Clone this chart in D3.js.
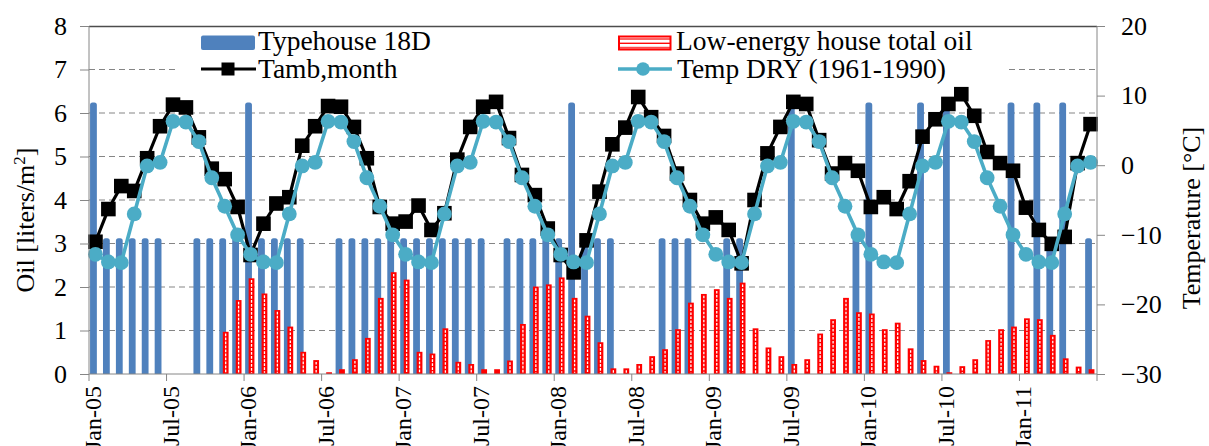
<!DOCTYPE html>
<html>
<head>
<meta charset="utf-8">
<script src="https://cdn.jsdelivr.net/npm/d3@7"></script>
<style>
  html, body { margin: 0; padding: 0; background: #fff; }
  svg { display: block; }
  text { font-family: "Liberation Serif", "Times New Roman", serif; fill: #000; }
</style>
</head>
<body>
<svg id="chart" width="1209" height="446"></svg>
<script>
// ---------- DATA ----------
const months = d3.timeMonth.range(new Date(2005, 0, 1), new Date(2011, 6, 1)).map(d3.timeFormat("%b-%y"));
const xTickLabels = ["Jan-05","Jul-05","Jan-06","Jul-06","Jan-07","Jul-07","Jan-08","Jul-08","Jan-09","Jul-09","Jan-10","Jul-10","Jan-11","Jul-11"];
const leftTicks = [0,1,2,3,4,5,6,7,8];
const rightTicks = [-30,-20,-10,0,10,20];

// Typehouse 18D oil [liters/m2]
const typehouse = [
  6.24,3.12,3.12,3.12,3.12,3.12,0,0,3.12,3.12,3.12,3.12,
  6.24,3.12,3.12,3.12,3.12,0,0,3.12,3.12,3.12,3.12,3.12,
  3.12,3.12,3.12,3.12,3.12,3.12,3.12,0,3.12,3.12,3.12,3.12,
  3.12,6.24,3.12,3.12,3.12,0,0,0,3.12,3.12,3.12,0,
  0,3.12,3.12,0,0,0,6.24,0,0,0,0,3.12,
  6.24,0,0,0,6.24,0,6.24,0,0,0,0,6.24,
  0,6.24,3.12,6.24,0,3.12
];
// Low-energy house total oil [liters/m2]
const lowEnergy = [
  null,null,null,null,null,null,null,null,null,null,0.97,1.70,
  2.20,1.85,1.47,1.09,0.51,0.32,0.04,0.11,0.34,0.83,1.75,2.34,
  2.17,0.51,0.47,1.05,0.28,0.23,0.11,0.11,0.31,1.15,2.01,2.06,
  2.22,1.75,1.34,0.73,0.13,0.13,0.23,0.41,0.57,1.03,1.64,1.84,
  1.95,1.75,2.10,1.05,0.61,0.41,0.23,0.34,0.93,1.26,1.75,1.42,
  1.39,1.03,1.18,0.59,0.32,0.19,0.04,0.18,0.34,0.78,1.03,1.09,
  1.28,1.26,0.90,0.36,0.17,0.11
];
// Tamb,month [°C]
const tamb = [
  -11.0,-6.3,-3.0,-3.7,1.0,5.6,8.7,8.3,4.0,-0.5,-2.0,-6.0,
  -12.9,-8.4,-5.5,-4.6,2.8,5.6,8.5,8.4,5.5,1.0,-6.0,-8.4,
  -8.1,-5.8,-9.3,-6.9,0.8,5.5,8.4,9.1,3.9,-1.4,-4.3,-9.1,
  -12.9,-15.4,-10.8,-3.8,3.0,5.4,9.8,6.9,4.2,-1.2,-5.0,-8.4,
  -7.5,-9.3,-14.1,-5.0,1.7,5.5,9.1,8.8,3.6,-1.2,0.3,-0.8,
  -6.0,-4.6,-6.3,-2.3,4.1,6.6,8.8,10.2,7.1,1.9,0.3,-0.8,
  -6.1,-9.3,-11.3,-10.3,0.3,5.9
];
// Temp DRY (1961-1990) [°C]
const tdry = [
  -12.8,-13.9,-14.0,-7.0,-0.1,0.4,6.3,6.2,3.4,-1.8,-5.9,-10.0,
  -12.8,-13.9,-14.0,-7.0,-0.1,0.4,6.3,6.2,3.4,-1.8,-5.9,-10.0,
  -12.8,-13.9,-14.0,-7.0,-0.1,0.4,6.3,6.2,3.4,-1.8,-5.9,-10.0,
  -12.8,-13.9,-14.0,-7.0,-0.1,0.4,6.3,6.2,3.4,-1.8,-5.9,-10.0,
  -12.8,-13.9,-14.0,-7.0,-0.1,0.4,6.3,6.2,3.4,-1.8,-5.9,-10.0,
  -12.8,-13.9,-14.0,-7.0,-0.1,0.4,6.3,6.2,3.4,-1.8,-5.9,-10.0,
  -12.8,-13.9,-14.0,-7.0,-0.1,0.4
];
const legendLabels = ["Typehouse 18D","Tamb,month","Low-energy house total oil","Temp DRY (1961-1990)"];

// ---------- LAYOUT ----------
const L = 89, R = 1097, T = 26, B = 374;
const svg = d3.select("#chart");
const x = d3.scaleBand().domain(months).range([L, R]).padding(0);
const bw = x.bandwidth();
const cx = m => x(m) + bw / 2;
const yL = d3.scaleLinear().domain([0, 8]).range([B, T]);
const yR = d3.scaleLinear().domain([-30, 20]).range([B, T]);

const BLUE = "#4f81bd", RED = "#ff0000", CYAN = "#4bacc6";

const defs = svg.append("defs");
defs.append("clipPath").attr("id", "plotclip")
  .append("rect").attr("x", L).attr("y", T).attr("width", R - L).attr("height", B - T);
const pat = defs.append("pattern").attr("id", "stripes")
  .attr("patternUnits", "userSpaceOnUse").attr("width", 8).attr("height", 4.4);
pat.append("rect").attr("width", 8).attr("height", 4.4).attr("fill", "#fff");
pat.append("rect").attr("y", 3.1).attr("width", 8).attr("height", 1.3).attr("fill", RED);

// gridlines
svg.append("g").selectAll("line").data(leftTicks.filter(d => d > 0 && d < 8)).join("line")
  .attr("x1", L).attr("x2", R).attr("y1", d => yL(d)).attr("y2", d => yL(d))
  .attr("stroke", "#858585").attr("stroke-width", 1).attr("stroke-dasharray", "6,4");

const plot = svg.append("g").attr("clip-path", "url(#plotclip)");

// blue bars
plot.append("g").selectAll("rect").data(months.map((m, i) => ({m, v: typehouse[i]})).filter(d => d.v > 0)).join("rect")
  .attr("x", d => cx(d.m) - 2 - 3.4).attr("width", 6.8)
  .attr("y", d => yL(d.v)).attr("height", d => B - yL(d.v) + 4)
  .attr("rx", 2.5).attr("fill", BLUE);

// red bars
const redData = months.map((m, i) => ({m, v: lowEnergy[i]})).filter(d => d.v != null && d.v > 0);
const rg = plot.append("g");
rg.selectAll("rect").data(redData).join("rect")
  .attr("x", d => cx(d.m) + 1 - 2.9).attr("width", 5.8)
  .attr("y", d => yL(d.v)).attr("height", d => B - yL(d.v))
  .attr("fill", RED);
rg.selectAll("line").data(redData.filter(d => d.v > 0.12)).join("line")
  .attr("x1", d => cx(d.m) + 1).attr("x2", d => cx(d.m) + 1)
  .attr("y1", d => yL(d.v) + 1.8).attr("y2", B - 1.2)
  .attr("stroke", "#fff").attr("stroke-width", 1.3).attr("stroke-dasharray", "2.6,1.4");

// legend background
svg.append("rect").attr("x", 175).attr("y", 27).attr("width", 831).attr("height", 58).attr("fill", "#fff");

// Tamb line
const lineT = d3.line().x((d, i) => cx(months[i])).y(d => yR(d));
svg.append("path").datum(tamb).attr("d", lineT).attr("fill", "none")
  .attr("stroke", "#000").attr("stroke-width", 3.2).attr("stroke-linejoin", "round");
svg.append("g").selectAll("rect").data(tamb).join("rect")
  .attr("x", (d, i) => cx(months[i]) - 7.3).attr("y", d => yR(d) - 7.3)
  .attr("width", 14.6).attr("height", 14.6).attr("fill", "#000");

// Temp DRY line
svg.append("path").datum(tdry).attr("d", lineT).attr("fill", "none")
  .attr("stroke", CYAN).attr("stroke-width", 3.6).attr("stroke-linejoin", "round");
svg.append("g").selectAll("circle").data(tdry).join("circle")
  .attr("cx", (d, i) => cx(months[i])).attr("cy", d => yR(d)).attr("r", 7.4).attr("fill", CYAN);

// plot frame
svg.append("line").attr("x1", L).attr("x2", R).attr("y1", T + 0.5).attr("y2", T + 0.5).attr("stroke", "#4d4d4d").attr("stroke-width", 1.3);
svg.append("line").attr("x1", L).attr("x2", L).attr("y1", T).attr("y2", B).attr("stroke", "#868686");
svg.append("line").attr("x1", R).attr("x2", R).attr("y1", T).attr("y2", B).attr("stroke", "#868686");
svg.append("line").attr("x1", L).attr("x2", R).attr("y1", B).attr("y2", B).attr("stroke", "#868686");

// left axis
const ax1 = svg.append("g").attr("transform", `translate(${L},0)`)
  .call(d3.axisLeft(yL).tickValues(leftTicks).tickSize(9).tickPadding(13).tickFormat(d3.format("d")));
ax1.select(".domain").remove();
ax1.selectAll("line").attr("stroke", "#868686");
ax1.selectAll("text").style("font-size", "26px").attr("font-family", null);

// right axis
const ax2 = svg.append("g").attr("transform", `translate(${R},0)`)
  .call(d3.axisRight(yR).tickValues(rightTicks).tickSize(8).tickPadding(16).tickFormat(d3.format("d")));
ax2.select(".domain").remove();
ax2.selectAll("line").attr("stroke", "#868686");
ax2.selectAll("text").style("font-size", "26px").attr("font-family", null);

// bottom axis: ticks at category boundaries every 6 months
const tickMonths = months.filter((m, i) => i % 6 === 0);
const xg = svg.append("g");
xg.selectAll("line").data(tickMonths.concat(["end"])).join("line")
  .attr("x1", d => d === "end" ? R : x(d)).attr("x2", d => d === "end" ? R : x(d))
  .attr("y1", B).attr("y2", B + 7).attr("stroke", "#868686");
xg.selectAll("text").data(tickMonths.filter(m => xTickLabels.includes(m))).join("text")
  .attr("transform", d => `translate(${x(d) + 12},386) rotate(-90)`)
  .attr("text-anchor", "end").style("font-size", "24px").text(d => d);

// axis titles
const yt = svg.append("text").attr("transform", "translate(34,220) rotate(-90)")
  .attr("text-anchor", "middle").style("font-size", "26px");
yt.append("tspan").text("Oil [liters/m");
yt.append("tspan").attr("baseline-shift", "super").style("font-size", "17px").text("2");
yt.append("tspan").text("]");
svg.append("text").attr("transform", "translate(1200,218) rotate(-90)")
  .attr("text-anchor", "middle").style("font-size", "26px").text("Temperature [°C]");

// legend
const lg = svg.append("g");
lg.append("rect").attr("x", 201).attr("y", 35.5).attr("width", 54).attr("height", 14.5).attr("rx", 2).attr("fill", BLUE);
lg.append("text").attr("x", 258).attr("y", 49.5).style("font-size", "27.5px").text(legendLabels[0]);
lg.append("line").attr("x1", 201).attr("x2", 256).attr("y1", 69).attr("y2", 69).attr("stroke", "#000").attr("stroke-width", 3.2);
lg.append("rect").attr("x", 221.5).attr("y", 62.5).attr("width", 13).attr("height", 13).attr("fill", "#000");
lg.append("text").attr("x", 258).attr("y", 77.5).style("font-size", "27.5px").text(legendLabels[1]);
lg.append("rect").attr("x", 619).attr("y", 36.5).attr("width", 51.5).attr("height", 13).attr("fill", "url(#stripes)")
  .attr("stroke", RED).attr("stroke-width", 2);
lg.append("text").attr("x", 676).attr("y", 49.5).style("font-size", "27.5px").text(legendLabels[2]);
lg.append("line").attr("x1", 618).attr("x2", 672).attr("y1", 69).attr("y2", 69).attr("stroke", CYAN).attr("stroke-width", 3.6);
lg.append("circle").attr("cx", 643).attr("cy", 69).attr("r", 6.8).attr("fill", CYAN);
lg.append("text").attr("x", 677).attr("y", 77.5).style("font-size", "27.5px").text(legendLabels[3]);
</script>
</body>
</html>
